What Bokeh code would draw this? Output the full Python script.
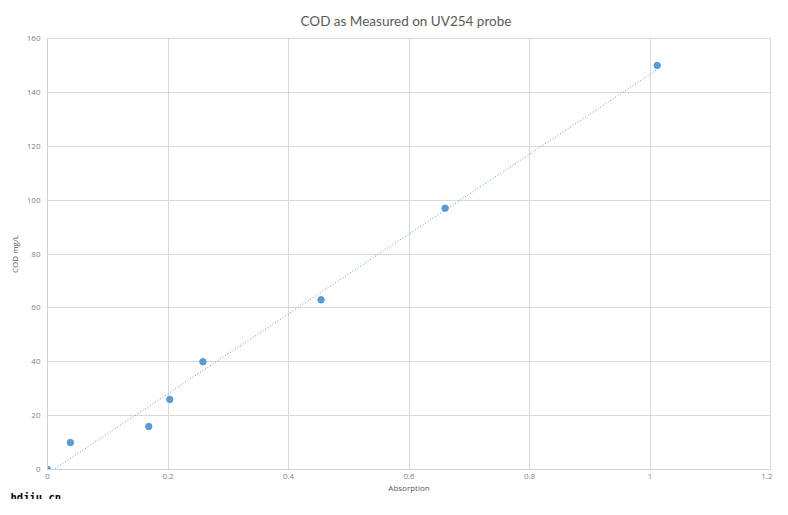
import numpy as np
from bokeh.plotting import figure
from bokeh.models import Title, Range1d, FixedTicker
from bokeh.embed import file_html
from bokeh.resources import INLINE

# Data
absorption = [0.0, 0.038, 0.168, 0.203, 0.258, 0.454, 0.660, 1.012]
cod_mg_l = [0, 10, 16, 26, 40, 63, 97, 150]

x_ticks = [0, 0.2, 0.4, 0.6, 0.8, 1.0, 1.2]
x_tick_labels = ["0", "0.2", "0.4", "0.6", "0.8", "1", "1.2"]
y_ticks = [0, 20, 40, 60, 80, 100, 120, 140, 160]

title_text = "COD as Measured on UV254 probe"
x_label = "Absorption"
y_label = "COD mg/L"
watermark = "hdjiu.cn"

FONT = "Open Sans"
GRID = "#d9d9d9"
BLUE = "#5b9bd5"
TXT = "#7f7f7f"

p = figure(width=772, height=499, output_backend="svg", toolbar_location=None,
           x_range=Range1d(0, 1.2), y_range=Range1d(0, 160),
           min_border_left=47, min_border_right=2, min_border_top=37, min_border_bottom=30)

p.title.text = title_text
p.title.align = "left"
p.title.offset = 253
p.title.standoff = 20
p.title.text_font = "Lato"
p.title.text_font_size = "13.5px"
p.title.text_font_style = "normal"
p.title.text_color = "#595959"

p.outline_line_color = GRID
p.background_fill_color = "white"
p.border_fill_color = "white"

p.xaxis.ticker = FixedTicker(ticks=x_ticks)
p.xaxis.major_label_overrides = {t: l for t, l in zip(x_ticks, x_tick_labels)}
p.yaxis.ticker = FixedTicker(ticks=y_ticks)
p.xgrid.ticker = FixedTicker(ticks=x_ticks)
p.ygrid.ticker = FixedTicker(ticks=y_ticks)
p.grid.grid_line_color = GRID
p.grid.grid_line_width = 1

for ax in (p.xaxis, p.yaxis):
    ax.axis_line_color = "#cfcfcf"
    ax.major_tick_line_color = None
    ax.minor_tick_line_color = None
    ax.major_tick_out = 0
    ax.major_tick_in = 0
    ax.minor_tick_out = 0
    ax.major_label_text_font = FONT
    ax.major_label_text_font_size = "8px"
    ax.major_label_text_color = TXT
    ax.axis_label_text_font = FONT
    ax.axis_label_text_font_size = "8px"
    ax.axis_label_text_font_style = "normal"
    ax.axis_label_text_color = "#595959"

p.xaxis.axis_label = x_label
p.yaxis.axis_label = y_label
p.xaxis.major_label_standoff = 4
p.yaxis.major_label_standoff = 7
p.xaxis.axis_label_standoff = 0
p.yaxis.axis_label_standoff = 4

# Linear trendline fitted to the data
slope, intercept = np.polyfit(absorption, cod_mg_l, 1)
tx = np.array([0.0, max(absorption)])
p.line(tx, slope * tx + intercept, line_color=BLUE, line_width=1, line_dash="1 2")

p.scatter(absorption, cod_mg_l, size=6.5, fill_color=BLUE, line_color=BLUE, marker="circle")

wm = Title(text=watermark, align="left", offset=-37, standoff=-15,
           text_font="DejaVu Sans Mono", text_font_size="10.5px", text_font_style="bold",
           text_color="black")
p.add_layout(wm, "below")

open("out.html", "w").write(file_html(p, INLINE))
